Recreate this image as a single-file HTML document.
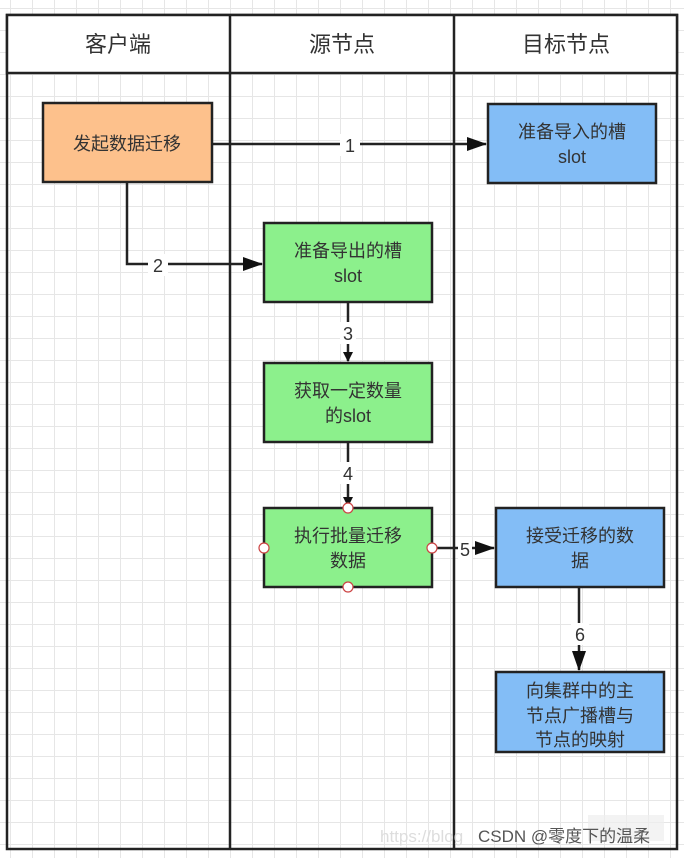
<!DOCTYPE html>
<html><head><meta charset="utf-8"><style>
body{margin:0;width:684px;height:858px;overflow:hidden;background:#fff;
background-image:linear-gradient(#e6e6e6 1px,transparent 1px),linear-gradient(90deg,#e6e6e6 1px,transparent 1px);background-size:22px 22px;background-position:10px 8px;}
</style></head><body>
<svg width="684" height="858" style="position:absolute;left:0;top:0" font-family="Liberation Sans, Noto Sans CJK SC, sans-serif">
<defs><marker id="a" markerWidth="10" markerHeight="10" refX="9" refY="5" orient="auto" markerUnits="userSpaceOnUse"><path d="M0,0L10,5L0,10z" fill="#111"/></marker>
<marker id="b" markerWidth="20" markerHeight="14" refX="19" refY="7" orient="auto" markerUnits="userSpaceOnUse"><path d="M0,0L20,7L0,14z" fill="#111"/></marker></defs>
<rect x="7" y="15" width="670" height="834" fill="none" stroke="#222" stroke-width="2.5"/>
<rect x="7" y="15" width="670" height="58" fill="#fff" stroke="#222" stroke-width="2.5"/>
<line x1="230" y1="15" x2="230" y2="849" stroke="#222" stroke-width="2.5"/>
<line x1="454" y1="15" x2="454" y2="849" stroke="#222" stroke-width="2.5"/>
<g font-size="22" fill="#333" text-anchor="middle">
<text x="118" y="52">客户端</text><text x="342" y="52">源节点</text><text x="566" y="52">目标节点</text></g>
<g stroke="#222" stroke-width="2.5">
<rect x="43" y="103" width="169" height="79" fill="#fdc18c"/>
<rect x="488" y="104" width="168" height="79" fill="#83bdf6"/>
<rect x="264" y="223" width="168" height="79" fill="#8cf08c"/>
<rect x="264" y="363" width="168" height="79" fill="#8cf08c"/>
<rect x="264" y="508" width="168" height="79" fill="#8cf08c"/>
<rect x="496" y="508" width="168" height="79" fill="#83bdf6"/>
<rect x="496" y="672" width="168" height="80" fill="#83bdf6"/>
</g>
<g stroke="#222" stroke-width="2.5" fill="none">
<line x1="212" y1="144" x2="486" y2="144" marker-end="url(#b)"/>
<polyline points="127,182 127,264 262,264" marker-end="url(#b)"/>
<line x1="348" y1="302" x2="348" y2="361" marker-end="url(#a)"/>
<line x1="348" y1="442" x2="348" y2="506" marker-end="url(#a)"/>
<line x1="432" y1="548" x2="494" y2="548" marker-end="url(#b)"/>
<line x1="579" y1="587" x2="579" y2="670" marker-end="url(#b)"/>
</g>
<g font-size="18" fill="#333" text-anchor="middle">
<rect x="340" y="134" width="20" height="22" fill="#fff"/><text x="350" y="152">1</text>
<rect x="148" y="254" width="20" height="22" fill="#fff"/><text x="158" y="272">2</text>
<rect x="340" y="322" width="16" height="22" fill="#fff"/><text x="348" y="340">3</text>
<rect x="340" y="462" width="16" height="22" fill="#fff"/><text x="348" y="480">4</text>
<rect x="458" y="538" width="14" height="22" fill="#fff"/><text x="465" y="556">5</text>
<rect x="571" y="623" width="18" height="22" fill="#fff"/><text x="580" y="641">6</text>
</g>
<g font-size="18" fill="#333" text-anchor="middle">
<text x="127" y="150">发起数据迁移</text>
<text x="572" y="138">准备导入的槽</text><text x="572" y="163">slot</text>
<text x="348" y="257">准备导出的槽</text><text x="348" y="282">slot</text>
<text x="348" y="397">获取一定数量</text><text x="348" y="422">的slot</text>
<text x="348" y="542">执行批量迁移</text><text x="348" y="567">数据</text>
<text x="580" y="542">接受迁移的数</text><text x="580" y="567">据</text>
<text x="580" y="697">向集群中的主</text><text x="580" y="722">节点广播槽与</text><text x="580" y="746">节点的映射</text>
</g>
<g fill="#fff" stroke="#c44" stroke-width="1.2">
<circle cx="348" cy="508" r="5"/><circle cx="348" cy="587" r="5"/><circle cx="264" cy="548" r="5"/><circle cx="432" cy="548" r="5"/></g>
<text x="380" y="842" font-size="17" fill="#ddd">https://blog</text>
<rect x="588" y="815" width="76" height="26" fill="#eee" opacity="0.7"/>
<text x="478" y="842" font-size="17" fill="#555">CSDN @零度下的温柔</text>
</svg>
</body></html>
